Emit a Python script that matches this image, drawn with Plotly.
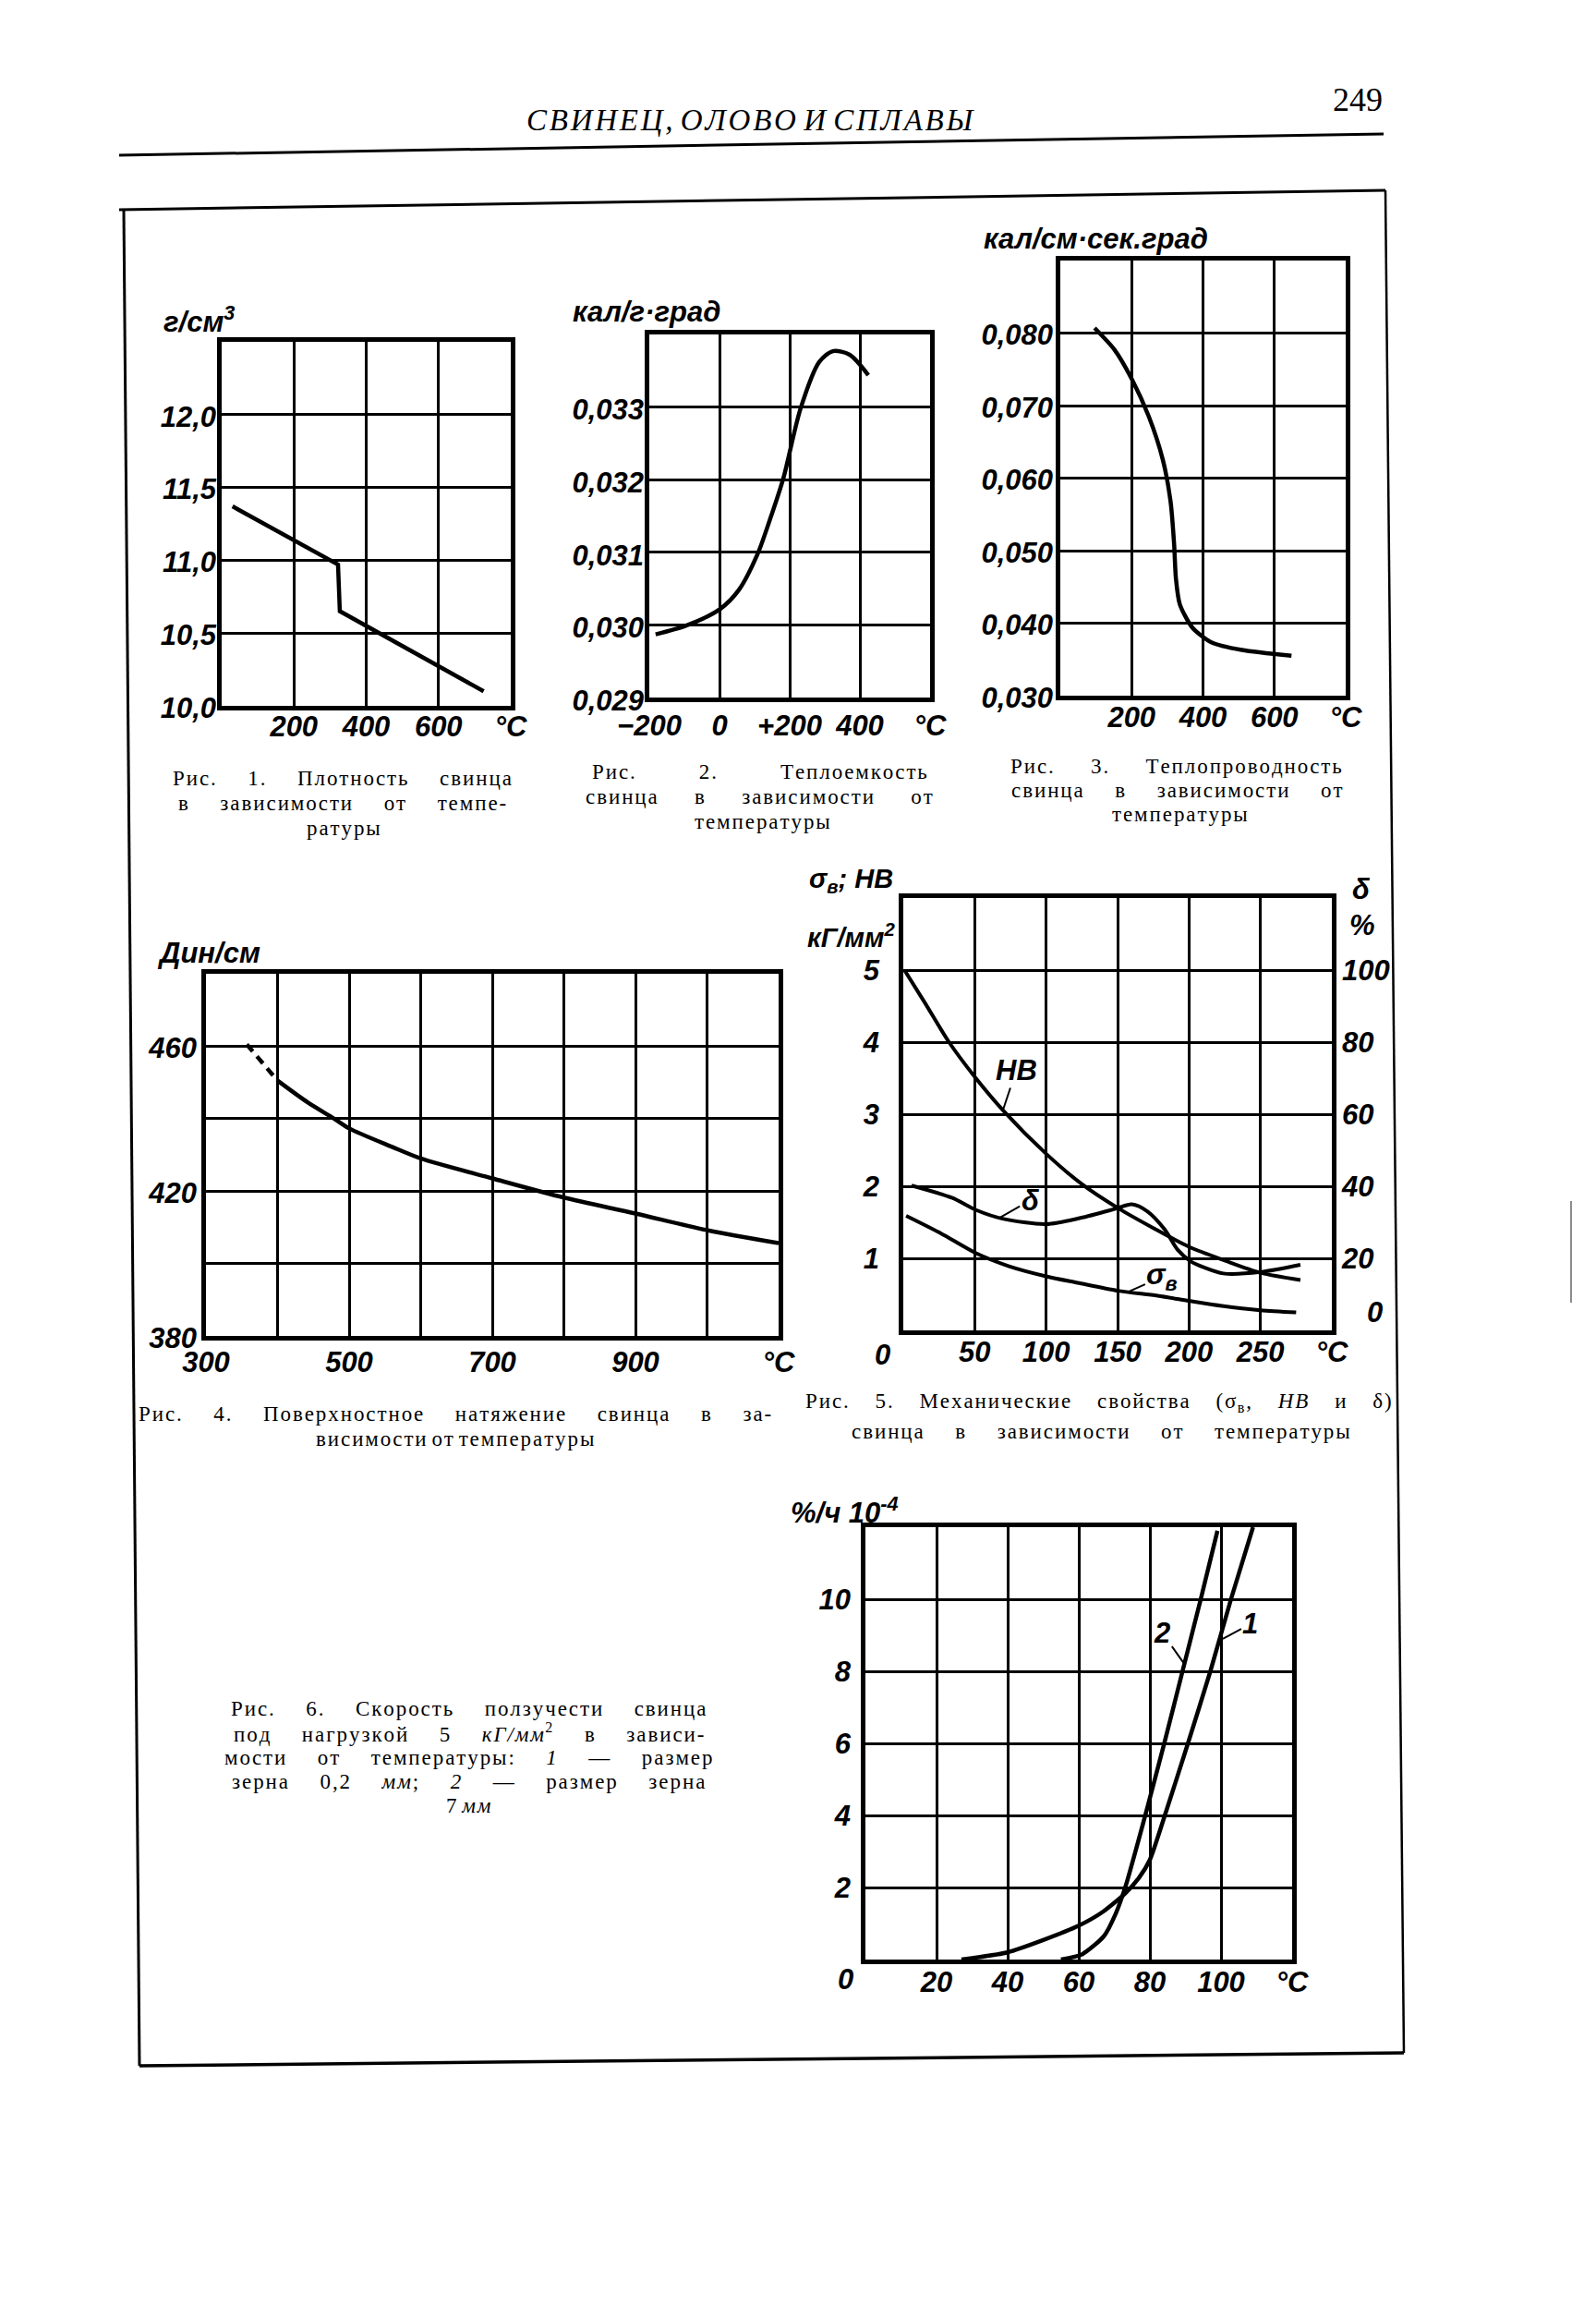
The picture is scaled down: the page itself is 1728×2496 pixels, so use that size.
import re
import plotly.graph_objects as go

# ---------------- data (read from the scanned page) ----------------
# Рис. 1 – density, г/см3 vs °C
dens_t = [30, 322, 327, 725]
dens_v = [11.37, 10.97, 10.65, 10.10]

# Рис. 2 – heat capacity, кал/г·град vs °C
cp_t = [-182, -95, 2, 55, 108, 143, 182, 231, 284, 323, 371, 424]
cp_v = [0.02987, 0.02999, 0.03022, 0.03048, 0.03097, 0.03144, 0.03202,
        0.03298, 0.03362, 0.03377, 0.03372, 0.03344]

# Рис. 3 – thermal conductivity, кал/см·сек·град vs °C
tc_t = [96, 152, 200, 248, 287, 309, 319, 324, 335, 370, 422, 509, 648]
tc_v = [0.0807, 0.0777, 0.0737, 0.0685, 0.0626, 0.0568, 0.0509, 0.0462,
        0.0426, 0.0394, 0.0374, 0.0363, 0.0355]

# Рис. 4 – surface tension, дин/см vs °C (dashed extrapolated start)
st_dash_t = [357, 378, 400]
st_dash_v = [460.5, 455.5, 450.5]
st_t = [400, 442, 479, 500, 560, 600, 700, 800, 900, 1000, 1100]
st_v = [450.5, 444.5, 440.0, 437.3, 432.2, 429.0, 423.5, 418.2, 413.8, 409.2, 405.6]

# Рис. 5 – mechanical properties vs °C (σв, HB on the left scale, δ % on the right)
hb_t = [0.8, 15, 32, 50, 70, 100, 125, 150, 175, 200, 225, 250, 278]
hb_v = [5.0, 4.55, 4.0, 3.52, 3.05, 2.45, 2.03, 1.70, 1.42, 1.16, 0.97, 0.80, 0.70]
sb_t = [2, 26, 51, 74, 100, 122, 150, 178, 200, 223, 250, 275]
sb_v = [1.59, 1.35, 1.07, 0.89, 0.75, 0.66, 0.55, 0.48, 0.41, 0.34, 0.28, 0.25]
el_t = [5.8, 34, 51, 69.5, 100, 124, 149, 160, 171, 183, 192, 201, 211, 224, 250, 278]
el_v = [40.2, 36.8, 33.4, 31.0, 29.5, 31.2, 33.8, 35.0, 33.0, 28.0, 22.4, 19.2,
        17.4, 15.8, 16.2, 18.2]

# Рис. 6 – creep rate, %/ч·10^-4 vs °C
c1_t = [27, 40, 50, 60, 67, 73, 77, 80, 84.2, 90.7, 97, 102.8, 109]
c1_v = [0.0, 0.2, 0.54, 0.94, 1.34, 1.83, 2.28, 2.77, 4.0, 6.0, 8.0, 10.0, 12.0]
c2_t = [55, 61, 67, 70.5, 73.3, 76.5, 79.5, 84.3, 89.3, 94.3, 99]
c2_v = [0.0, 0.15, 0.64, 1.3, 2.08, 3.2, 4.3, 6.1, 8.05, 10.0, 11.9]

# tick labels
x1_vals = [200, 400, 600, 800]; x1_text = ["200", "400", "600", "°C"]
y1_vals = [10, 10.5, 11, 11.5, 12]; y1_text = ["10,0", "10,5", "11,0", "11,5", "12,0"]
x2_vals = [-200, 0, 200, 400, 600]; x2_text = ["−200", "0", "+200", "400", "°C"]
y2_vals = [0.029, 0.030, 0.031, 0.032, 0.033]; y2_text = ["0,029", "0,030", "0,031", "0,032", "0,033"]
x3_vals = [200, 400, 600, 800]; x3_text = ["200", "400", "600", "°C"]
y3_vals = [0.03, 0.04, 0.05, 0.06, 0.07, 0.08]
y3_text = ["0,030", "0,040", "0,050", "0,060", "0,070", "0,080"]
x4_vals = [300, 500, 700, 900, 1100]; x4_text = ["300", "500", "700", "900", "°C"]
y4_vals = [380, 420, 460]; y4_text = ["380", "420", "460"]
x5_vals = [50, 100, 150, 200, 250, 300]; x5_text = ["50", "100", "150", "200", "250", "°C"]
y5_vals = [1, 2, 3, 4, 5]; y5_text = ["1", "2", "3", "4", "5"]
y7_vals = [20, 40, 60, 80, 100]; y7_text = ["20", "40", "60", "80", "100"]
x6_vals = [20, 40, 60, 80, 100, 120]; x6_text = ["20", "40", "60", "80", "100", "°C"]
y6_vals = [2, 4, 6, 8, 10]; y6_text = ["2", "4", "6", "8", "10"]

# ---------------- page geometry (pixels of the page) ----------------
OFF = 8
FW, FH = 1728 - 2 * OFF, 2496 - 2 * OFF


def fx(X):
    return (X - OFF) / FW


def fy(Y):
    return 1 - (Y - OFF) / FH


boxes = {1: (240, 553, 370, 764), 2: (703, 1007, 362, 755), 3: (1148, 1457, 282, 753),
         4: (223, 843, 1054, 1446), 5: (978, 1442, 972, 1440), 6: (937, 1399, 1653, 2121)}

DRAFT = "Liberation Sans"
TICKFONT = dict(family=DRAFT, size=31, color="black", style="italic", weight=700)
LBLFONT = dict(family=DRAFT, size=31, color="black", style="italic", weight=700)
CAPFONT = "Liberation Serif"


def xdom(k):
    l, r, t, b = boxes[k]
    return [fx(l), fx(r)]


def ydom(k):
    l, r, t, b = boxes[k]
    return [fy(b), fy(t)]


def axis(dom, anchor, rng, grid, vals, text, standoff, gridw=2.8, shift=0):
    return dict(domain=dom, anchor=anchor, range=rng, showline=True, mirror=True,
                linewidth=4.5, linecolor="black", showgrid=True, gridcolor="black",
                gridwidth=gridw, zeroline=False, tickmode="array", tickvals=vals,
                ticktext=text, ticks="", ticklabelstandoff=standoff, ticklabelshift=shift,
                tickfont=TICKFONT, tickangle=0, automargin=False, fixedrange=True,
                minor=dict(tickmode="linear", tick0=rng[0], dtick=grid, showgrid=True,
                           gridcolor="black", gridwidth=gridw, ticks=""))


fig = go.Figure()

LINE = dict(color="black", width=4.5)
fig.add_trace(go.Scatter(x=dens_t, y=dens_v, mode="lines", line=LINE, xaxis="x", yaxis="y"))
fig.add_trace(go.Scatter(x=cp_t, y=cp_v, mode="lines",
                         line=dict(color="black", width=4.5, shape="spline", smoothing=0.8),
                         xaxis="x2", yaxis="y2"))
fig.add_trace(go.Scatter(x=tc_t, y=tc_v, mode="lines",
                         line=dict(color="black", width=4.5, shape="spline", smoothing=0.7),
                         xaxis="x3", yaxis="y3"))
fig.add_trace(go.Scatter(x=st_dash_t, y=st_dash_v, mode="lines",
                         line=dict(color="black", width=4.5, dash="10px,7px"),
                         xaxis="x4", yaxis="y4"))
fig.add_trace(go.Scatter(x=st_t, y=st_v, mode="lines",
                         line=dict(color="black", width=4.5, shape="spline", smoothing=0.8),
                         xaxis="x4", yaxis="y4"))
L5 = dict(color="black", width=4, shape="spline", smoothing=0.8)
fig.add_trace(go.Scatter(x=hb_t, y=hb_v, mode="lines", line=L5, xaxis="x5", yaxis="y5"))
fig.add_trace(go.Scatter(x=sb_t, y=sb_v, mode="lines", line=L5, xaxis="x5", yaxis="y5"))
fig.add_trace(go.Scatter(x=el_t, y=el_v, mode="lines", line=L5, xaxis="x5", yaxis="y7"))
L6 = dict(color="black", width=4.5, shape="spline", smoothing=0.6)
fig.add_trace(go.Scatter(x=c1_t, y=c1_v, mode="lines", line=L6, xaxis="x6", yaxis="y6"))
fig.add_trace(go.Scatter(x=c2_t, y=c2_v, mode="lines", line=L6, xaxis="x6", yaxis="y6"))

layout = dict(
    width=FW, height=FH, autosize=False, margin=dict(l=0, r=0, t=0, b=0, pad=0, autoexpand=False),
    paper_bgcolor="white", plot_bgcolor="white", showlegend=False,
    font=dict(family="Liberation Sans", color="black", size=20),
    xaxis=axis(xdom(1), "y", [0, 800], 200, x1_vals, x1_text, -9),
    yaxis=axis(ydom(1), "x", [10, 12.5], 0.5, y1_vals, y1_text, -5, shift=2),
    xaxis2=axis(xdom(2), "y2", [-200, 600], 200, x2_vals, x2_text, -1),
    yaxis2=axis(ydom(2), "x2", [0.029, 0.034], 0.001, y2_vals, y2_text, -5, shift=3),
    xaxis3=axis(xdom(3), "y3", [0, 800], 200, x3_vals, x3_text, -8),
    yaxis3=axis(ydom(3), "x3", [0.03, 0.09], 0.01, y3_vals, y3_text, -3, shift=2),
    xaxis4=axis(xdom(4), "y4", [300, 1100], 100, x4_vals, x4_text, -3),
    yaxis4=axis(ydom(4), "x4", [380, 480], 20, y4_vals, y4_text, -1, shift=2),
    xaxis5=axis(xdom(5), "y5", [0, 300], 50, x5_vals, x5_text, -8),
    yaxis5=axis(ydom(5), "x5", [0, 6], 1, y5_vals, y5_text, 15),
    yaxis7=dict(domain=ydom(5), anchor="x5", overlaying="y5", side="right", range=[0, 120],
                showgrid=False, showline=False, zeroline=False, tickmode="array",
                tickvals=y7_vals, ticktext=y7_text, ticks="", ticklabelstandoff=10,
                tickfont=TICKFONT, tickangle=0, automargin=False, fixedrange=True),
    xaxis6=axis(xdom(6), "y6", [0, 120], 20, x6_vals, x6_text, -7),
    yaxis6=axis(ydom(6), "x6", [0, 12], 2, y6_vals, y6_text, 5),
)
fig.update_layout(**layout)

ann = []


def txt(s, X, Y, anchor="center", font=None):
    ann.append(dict(text=s, x=fx(X), y=fy(Y), xref="paper", yref="paper", showarrow=False,
                    xanchor=anchor, yanchor="middle", font=font or LBLFONT))


TITLE2 = dict(LBLFONT, size=29)
# axis titles
txt("г/см<sup>3</sup>", 175, 346, "left")
txt("кал/г·град", 700, 337)
txt("кал/см·сек.град", 1186, 259)
txt("Дин/см", 168, 1032, "left")
txt("σ<sub>в</sub>; HB", 921, 953, font=TITLE2)
txt("кГ/мм<sup>2</sup>", 921, 1013, font=TITLE2)
txt("δ", 1473, 963)
txt("%", 1475, 1001)
txt("%/ч 10<sup>-4</sup>", 854, 1635, "left")
txt("0", 955, 1466, font=TICKFONT)          # origin of Рис. 5
txt("0", 1488, 1421, font=TICKFONT)         # δ = 0 on the right scale of Рис. 5
txt("0", 915, 2142, font=TICKFONT)          # origin of Рис. 6


# curve labels with leader lines
def lead(s, x, y, xr, yr, ax, ay):
    ann.append(dict(text=s, x=x, y=y, xref=xr, yref=yr, showarrow=True, arrowhead=0,
                    arrowwidth=2, arrowcolor="black", ax=ax, ay=ay, font=LBLFONT))


lead("HB", 70.0, 3.07, "x5", "y5", 14, -42)
lead("δ", 68, 1.57, "x5", "y5", 32, -18)
lead("σ<sub>в</sub>", 158, 0.54, "x5", "y5", 36, -16)
lead("2", 89.7, 8.2, "x6", "y6", -24, -34)
lead("1", 100.5, 8.9, "x6", "y6", 30, -16)

# ---------------- captions (letter-spaced, justified lines) ----------------
HS = "\u200a"     # hair space between letters
NB = "\u00a0"     # no-break space for word gaps
TW = {'а': .444, 'б': .5, 'в': .472, 'г': .41, 'д': .5, 'е': .444, 'ж': .69, 'з': .39,
      'и': .535, 'й': .535, 'к': .486, 'л': .5, 'м': .63, 'н': .535, 'о': .5, 'п': .535,
      'р': .5, 'с': .444, 'т': .44, 'у': .5, 'ф': .65, 'х': .5, 'ц': .535, 'ч': .5,
      'ш': .77, 'щ': .77, 'ъ': .52, 'ы': .68, 'ь': .46, 'э': .44, 'ю': .72, 'я': .48,
      ' ': .25, NB: .25, '.': .25, ',': .25, ':': .278, ';': .278, '(': .333, ')': .333,
      '-': .333, '—': 1.0, 'σ': .55, 'δ': .5, '/': .278, 'М': .89, 'П': .72, 'Р': .556,
      'С': .667, 'Т': .611, 'Г': .6, 'H': .72, 'B': .61}


def spaced(s):
    out, prev = [], None
    i = 0
    while i < len(s):
        if s[i] == "<":
            j = s.index(">", i)
            out.append(s[i:j + 1])
            i = j + 1
            continue
        ch = s[i]
        if prev is not None and prev != " " and ch != " ":
            out.append(HS)
        out.append(ch)
        prev = ch
        i += 1
    return "".join(out)


def wlen(s, size):
    w = 0.0
    scale = 1.0
    for part in re.split(r"(<[^>]+>)", s):
        if part.startswith("<"):
            if part in ("<sup>", "<sub>"):
                scale = 0.65
            elif part in ("</sup>", "</sub>"):
                scale = 1.0
            continue
        for ch in part:
            if ch == HS:
                w += 0.09
            elif ch in TW:
                w += TW[ch] * scale
            elif ch.isdigit():
                w += 0.5 * scale
            elif ch.isupper():
                w += 0.67 * scale
            else:
                w += 0.5 * scale
    return w * size


def justify(words, x0, x1, Y, size):
    f = dict(family=CAPFONT, size=size, color="black")
    words = [spaced(w) for w in words]
    ws = [wlen(w, size) for w in words]
    gap = (x1 - x0 - sum(ws)) / (len(words) - 1)
    n_nb = max(1, int(round(gap / (0.25 * size))))
    line = (NB * n_nb).join(words)
    txt(line, (x0 + x1) / 2, Y, "center", f)


def center(s, X, Y, size):
    txt(spaced(s), X, Y, "center", dict(family=CAPFONT, size=size, color="black"))


CS = 23
justify(["Рис.", "1.", "Плотность", "свинца"], 188, 553, 842, CS)
justify(["в", "зависимости", "от", "темпе-"], 188, 553, 869, CS)
center("ратуры", 372, 896, CS)

justify(["Рис.", "2.", "Теплоемкость"], 637, 1007, 835, CS)
justify(["свинца", "в", "зависимости", "от"], 637, 1007, 862, CS)
center("температуры", 825, 889, CS)

justify(["Рис.", "3.", "Теплопроводность"], 1090, 1457, 829, CS)
justify(["свинца", "в", "зависимости", "от"], 1090, 1457, 855, CS)
center("температуры", 1277, 881, CS)

justify(["Рис.", "4.", "Поверхностное", "натяжение", "свинца", "в", "за-"], 155, 830, 1530, CS)
center("висимости от температуры", 492, 1557, CS)

justify(["Рис.", "5.", "Механические", "свойства", "(σ<sub>в</sub>,", "<i>HB</i>", "и", "δ)"],
        874, 1505, 1518, CS)
justify(["свинца", "в", "зависимости", "от", "температуры"], 922, 1462, 1549, CS)

justify(["Рис.", "6.", "Скорость", "ползучести", "свинца"], 246, 768, 1849, CS)
justify(["под", "нагрузкой", "5", "<i>кГ/мм</i><sup>2</sup>", "в", "зависи-"], 246, 768, 1876, CS)
justify(["мости", "от", "температуры:", "<i>1</i>", "—", "размер"], 246, 768, 1902, CS)
justify(["зерна", "0,2", "<i>мм</i>;", "<i>2</i>", "—", "размер", "зерна"], 246, 768, 1928, CS)
center("7 <i>мм</i>", 507, 1954, CS)

# running head
txt("<i>" + spaced("СВИНЕЦ, ОЛОВО И СПЛАВЫ") + "</i>", 812, 130, "center",
    dict(family=CAPFONT, size=33, color="black"))
txt("249", 1470, 108, "center", dict(family=CAPFONT, size=36, color="black"))

fig.update_layout(annotations=ann)

# page rules and frame
shapes = []


def seg(x0, y0, x1, y1, w=3, c="black"):
    shapes.append(dict(type="line", xref="paper", yref="paper", x0=fx(x0), y0=fy(y0),
                       x1=fx(x1), y1=fy(y1), line=dict(color=c, width=w)))


seg(129, 168, 1498, 145, 3)          # header rule
seg(129, 227, 1500, 206, 3)          # frame top
seg(134, 227, 151, 2236, 3)          # frame left
seg(1500, 206, 1520, 2222, 2.5)      # frame right
seg(151, 2236, 1520, 2222, 3.5)      # frame bottom
seg(1701, 1300, 1701, 1410, 1.5, "#666666")  # scan mark at page edge
fig.update_layout(shapes=shapes)

fig.write_html("out.html")
